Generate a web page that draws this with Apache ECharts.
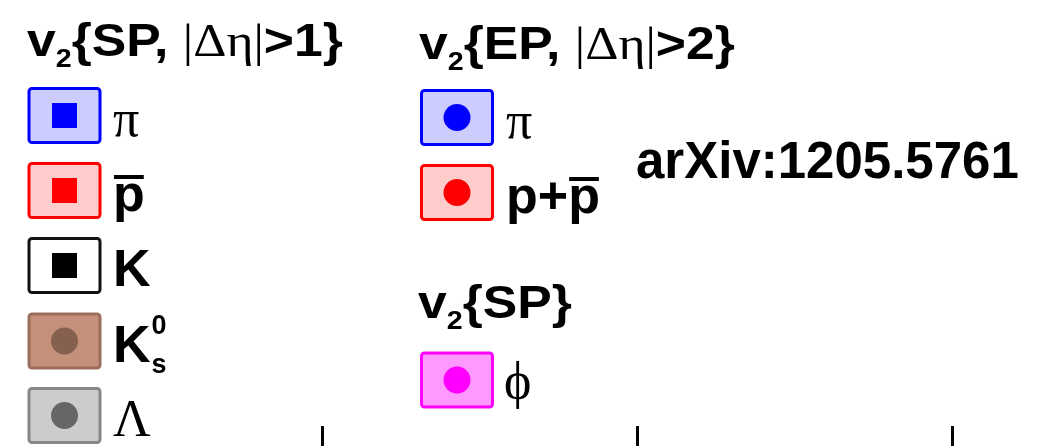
<!DOCTYPE html>
<html>
<head>
<meta charset="utf-8">
<title>v2 legend</title>
<script src="https://cdn.jsdelivr.net/npm/echarts@6.0.0/dist/echarts.min.js"></script>
<style>
  html, body { margin: 0; padding: 0; background: #ffffff; }
  #chart { width: 1052px; height: 446px; }
</style>
</head>
<body>
<div id="chart"></div>
<script>
// Axis ticks (transverse momentum, GeV/c) visible along the lower edge
const xTicks = [1, 2, 3];
const xRange = [0, 3.3];

// Legend groups: method headers and the particle species they cover
const spHeaderParts = ['v', '2', '{SP, ', '|Δη|', '>1}'];
const epHeaderParts = ['v', '2', '{EP, ', '|Δη|', '>2}'];
const phiHeaderParts = ['v', '2', '{SP}'];

const spSpecies = ['π', 'p̄', 'K', 'K0s', 'Λ'];
const epSpecies = ['π', 'p+p̄'];
const phiSpecies = ['ϕ'];

const spMarkers = ['square', 'square', 'square', 'circle', 'circle'];
const epMarkers = ['circle', 'circle'];
const phiMarkers = ['circle'];

// Colours: [box fill, box border, marker]
const spColors = [
  ['#ccccff', '#0000ff', '#0000ff'],
  ['#ffcccc', '#ff0000', '#ff0000'],
  ['#ffffff', '#111111', '#000000'],
  ['#c4907a', '#9c6e5e', '#86604f'],
  ['#cccccc', '#888888', '#666666']
];
const epColors = [
  ['#ccccff', '#0000ff', '#0000ff'],
  ['#ffcccc', '#ff0000', '#ff0000']
];
const phiColors = [
  ['#ff99ff', '#ff00ff', '#ff00ff']
];

const referenceNote = 'arXiv:1205.5761';

// ---- text helpers -------------------------------------------------------
const mctx = document.createElement('canvas').getContext('2d');
const SANS = '"Liberation Sans", Arial, Helvetica, sans-serif';
const SERIF = '"Liberation Serif", "Times New Roman", "DejaVu Serif", serif';

function fontOf(kind, size) {
  return kind === 'serif' ? size + 'px ' + SERIF : 'bold ' + size + 'px ' + SANS;
}
function widthOf(text, font) {
  mctx.font = font;
  return mctx.measureText(text).width;
}
// distance from the 'middle' text baseline down to the alphabetic baseline
function midToBase(font) {
  mctx.font = font;
  mctx.textBaseline = 'middle';
  const d = mctx.measureText('H').actualBoundingBoxDescent;
  mctx.textBaseline = 'alphabetic';
  return d;
}

const elements = [];

// draws one text run with its alphabetic baseline at `baseline`;
// sx widens the glyphs horizontally. Returns the advance width.
function textAt(text, x, baseline, font, sx) {
  sx = sx || 1;
  elements.push({
    type: 'text',
    x: x,
    y: baseline - midToBase(font),
    scaleX: sx,
    silent: true,
    style: {
      text: text,
      font: font,
      fill: '#000000',
      align: 'left',
      verticalAlign: 'middle',
      textAlign: 'left',
      textVerticalAlign: 'middle'
    }
  });
  return widthOf(text, font) * sx;
}

// Method header such as v_2{SP, |Δη|>1}: main text, subscript, and the
// |Δη| condition set in a serif face.
function header(parts, x, baseline) {
  const sx = 1.1;
  const big = fontOf('bold', 47);
  const sub = fontOf('bold', 26);
  let cx = x;
  cx += textAt(parts[0], cx, baseline, big, sx);
  cx += textAt(parts[1], cx, baseline + 11, sub, sx);
  cx += textAt(parts[2], cx, baseline, big, sx);
  if (parts[3]) {
    cx += textAt(parts[3], cx, baseline, fontOf('serif', 47), sx);
    textAt(parts[4], cx, baseline, big, sx);
  }
}

function speciesLabel(name, x, baseline) {
  const size = 52;
  const bold = fontOf('bold', size);
  const serif = fontOf('serif', size);
  if (name === 'π' || name === 'Λ') {
    textAt(name, x, baseline, serif);
  } else if (name === 'ϕ') {
    textAt(name, x, baseline - 3, serif);
  } else if (name === 'K') {
    textAt('K', x, baseline, bold);
  } else if (name === 'p̄') {
    const w = textAt('p', x, baseline, bold);
    elements.push({ type: 'rect', silent: true,
      shape: { x: x + 1, y: baseline - 36, width: w - 2, height: 4 },
      style: { fill: '#000000' } });
  } else if (name === 'p+p̄') {
    let cx = x;
    cx += textAt('p', cx, baseline, bold);
    cx += textAt('+', cx, baseline, bold);
    const w = textAt('p', cx, baseline, bold);
    elements.push({ type: 'rect', silent: true,
      shape: { x: cx + 1, y: baseline - 36, width: w - 2, height: 4 },
      style: { fill: '#000000' } });
  } else if (name === 'K0s') {
    const w = textAt('K', x, baseline, bold);
    const small = fontOf('bold', 27);
    textAt('0', x + w + 1, baseline - 28, small);
    textAt('s', x + w + 1, baseline + 11, small);
  }
}

function legendRow(cx0, centerY, marker, colors, name, labelX) {
  const bw = 71, bh = 54;
  elements.push({
    type: 'rect', silent: true,
    shape: { x: cx0, y: centerY - bh / 2, width: bw, height: bh, r: 3 },
    style: { fill: colors[0], stroke: colors[1], lineWidth: 3 }
  });
  const mx = cx0 + bw / 2, my = centerY;
  if (marker === 'square') {
    elements.push({ type: 'rect', silent: true,
      shape: { x: mx - 12.5, y: my - 12.5, width: 25, height: 25 },
      style: { fill: colors[2] } });
  } else {
    elements.push({ type: 'circle', silent: true,
      shape: { cx: mx, cy: my, r: 13.5 },
      style: { fill: colors[2] } });
  }
  speciesLabel(name, labelX, centerY + 20.5);
}

// ---- legend layout ------------------------------------------------------
header(spHeaderParts, 27, 56);
const spRowsY = [115.5, 190.5, 265.5, 341, 415.5];
spSpecies.forEach(function (s, i) {
  legendRow(29, spRowsY[i], spMarkers[i], spColors[i], s, 113);
});

header(epHeaderParts, 419, 59);
const epRowsY = [117.5, 192.5];
epSpecies.forEach(function (s, i) {
  legendRow(421.5, epRowsY[i], epMarkers[i], epColors[i], s, 506);
});

header(phiHeaderParts, 418, 318);
phiSpecies.forEach(function (s, i) {
  legendRow(421.5, 380, phiMarkers[i], phiColors[i], s, 504);
});

textAt(referenceNote, 636, 178, fontOf('bold', 51));

// ---- chart --------------------------------------------------------------
const chart = echarts.init(document.getElementById('chart'), null, { renderer: 'canvas' });
chart.setOption({
  backgroundColor: '#ffffff',
  animation: false,
  grid: { left: 7, right: 1052 - 7 - (xRange[1] - xRange[0]) * 315, top: 0, bottom: 0, containLabel: false },
  xAxis: {
    type: 'value',
    min: xRange[0],
    max: xRange[1],
    interval: 1,
    axisLine: { show: false },
    splitLine: { show: false },
    axisLabel: { show: false },
    axisTick: {
      show: true,
      inside: true,
      length: 20,
      customValues: xTicks,
      lineStyle: { color: '#000000', width: 3 }
    }
  },
  yAxis: { type: 'value', show: false, min: 0, max: 1 },
  series: [{ type: 'scatter', data: [], silent: true }],
  graphic: { elements: elements }
});
</script>
</body>
</html>
